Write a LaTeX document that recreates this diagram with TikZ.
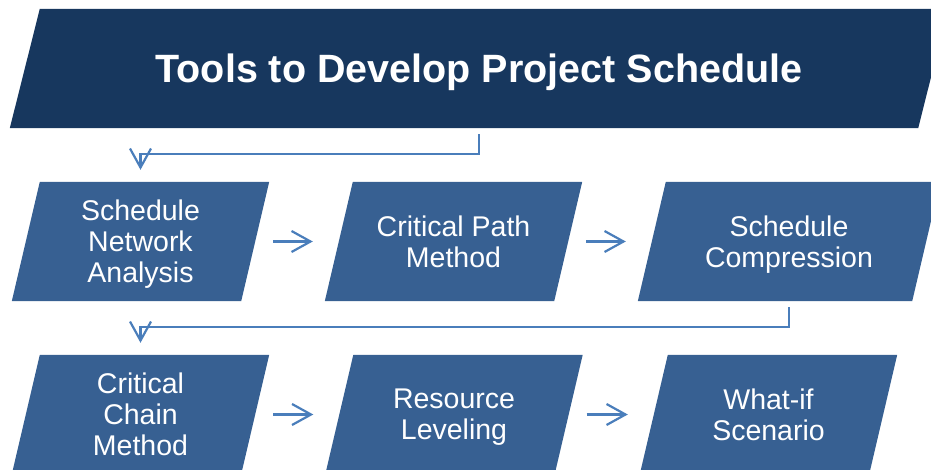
\documentclass[tikz,border=0pt]{standalone}
\usepackage{fontspec}
\setmainfont{Liberation Sans}
\usepackage{tikz}
\usetikzlibrary{arrows.meta,backgrounds}
\definecolor{navy}{HTML}{17375E}
\definecolor{boxblue}{HTML}{376092}
\definecolor{lineblue}{HTML}{4A7EBB}
\begin{document}
\begin{tikzpicture}[x=1pt, y=-1pt,
  box/.style={minimum width=229pt, minimum height=119pt, inner sep=0pt, text depth=0pt,
    text=white, align=center, font=\fontsize{28.5}{31}\selectfont},
  link/.style={draw=lineblue, line width=2.2pt, -{Straight Barb[length=19pt,width=21pt]}}]
\useasboundingbox (0,0) rectangle (931,470);
\clip (0,0) rectangle (931,470);
\node[box, minimum width=908pt, font=\bfseries\fontsize{39.5}{47}\selectfont] (title) at (479,68.5) {Tools to Develop Project Schedule};
\node[box] (sna) at (140.5,241.5) {Schedule\\Network\\Analysis};
\node[box] (cpm) at (453.5,241.5) {Critical Path\\Method};
\node[box, minimum width=274pt] (sc) at (789,241.5) {Schedule\\Compression};
\node[box] (ccm) at (140.5,414.5) {Critical\\Chain\\Method};
\node[box] (rl) at (454,414.5) {Resource\\Leveling};
\node[box] (wis) at (768.5,414.5) {What-if\\Scenario};
\begin{scope}[on background layer]
\fill[navy] ([xshift=15pt]title.north west) -- ([xshift=15pt]title.north east)
  -- ([xshift=-15pt]title.south east) -- ([xshift=-15pt]title.south west) -- cycle;
\foreach \n in {sna, cpm, sc, ccm, rl, wis} {
 \fill[boxblue] ([xshift=14pt]\n.north west) -- ([xshift=14pt]\n.north east)
  -- ([xshift=-14pt]\n.south east) -- ([xshift=-14pt]\n.south west) -- cycle;
}
\end{scope}
\foreach \a/\b in {sna/cpm, cpm/sc, ccm/rl, rl/wis} {
 \draw[link, shorten <=18pt, shorten >=26pt] (\a.east) -- (\b.west);
}
\draw[link, shorten <=6pt, shorten >=12pt] (title.south) -- ++(0,26) -| (sna.north);
\draw[link, shorten <=6pt, shorten >=12pt] (sc.south) -- ++(0,26) -| (ccm.north);
\end{tikzpicture}
\end{document}
